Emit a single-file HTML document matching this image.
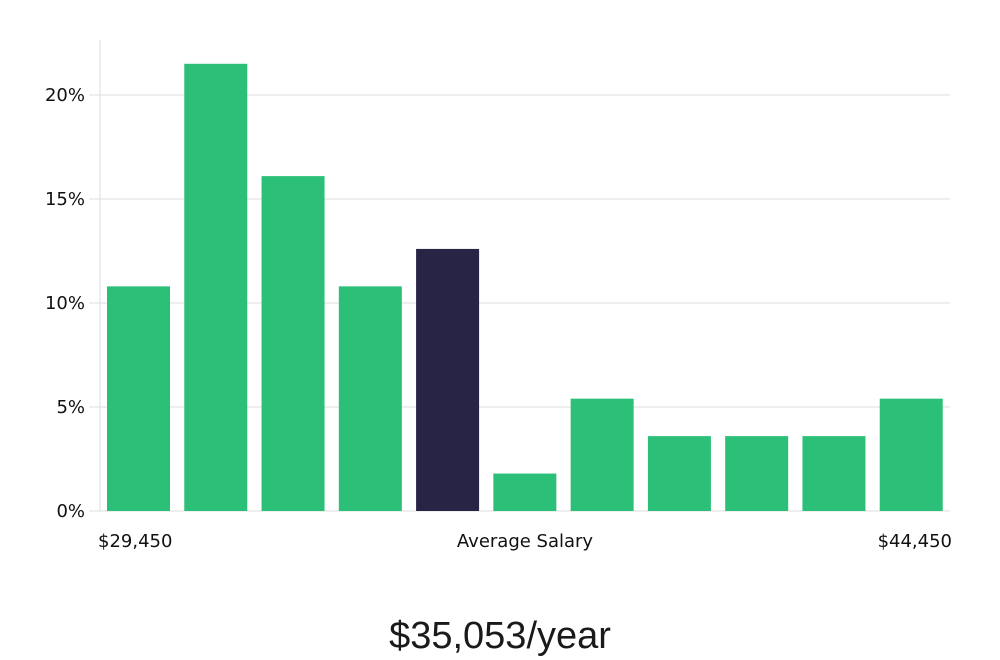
<!DOCTYPE html>
<html><head><meta charset="utf-8"><style>
html,body{margin:0;padding:0;background:#fff;width:1000px;height:660px;overflow:hidden}
text{font-family:"DejaVu Sans","Liberation Sans",sans-serif}
</style></head><body>
<svg id="chart" width="1000" height="660" xmlns="http://www.w3.org/2000/svg">
<g id="grid"></g>
<g id="bars"></g>
<g id="yaxis"></g>
<text x="98" y="547" font-size="18" fill="#111">$29,450</text>
<text x="525" y="547" font-size="18" fill="#111" text-anchor="middle">Average Salary</text>
<text x="952" y="547" font-size="18" fill="#111" text-anchor="end">$44,450</text>
<text x="500" y="648" font-size="38" fill="#1a1a1a" text-anchor="middle" style="font-family:'Liberation Sans',sans-serif;font-weight:300">$35,053/year</text>
</svg>
<script>
const values = [10.8, 21.5, 16.1, 10.8, 12.6, 1.8, 5.4, 3.6, 3.6, 3.6, 5.4];
const highlightIndex = [4];
const yTicks = [0, 5, 10, 15, 20];
const yTickLabels = ["0%", "5%", "10%", "15%", "20%"];
const NS = "http://www.w3.org/2000/svg";
const x0 = 100, x1 = 950, yBase = 511, yTop20 = 95;
const y = v => yBase - (yBase - yTop20) * v / 20;
const band = (x1 - x0) / values.length;
const grid = document.getElementById('grid');
const yaxis = document.getElementById('yaxis');
const barsG = document.getElementById('bars');
function mk(tag, attrs, parent){const e=document.createElementNS(NS,tag);for(const k in attrs)e.setAttribute(k,attrs[k]);parent.appendChild(e);return e;}
yTicks.forEach((t,i)=>{
  const gl = mk('line',{x1:89,x2:x1,y1:y(t),y2:y(t),stroke:'#dcdcdc','stroke-width':1},grid);
  
  
  const lb = mk('text',{x:85,y:y(t)+6,'font-size':18,fill:'#111','text-anchor':'end'},yaxis);
  lb.textContent = yTickLabels[i];
  
  
});
const ax = mk('line',{x1:x0,x2:x0,y1:40,y2:yBase,stroke:'#dcdcdc','stroke-width':1},yaxis);


values.forEach((v,i)=>{
  const hl = highlightIndex.includes(i);
  const r = mk('rect',{x:x0+i*band+7,y:y(v),width:63,height:yBase-y(v),fill:hl?'#272445':'#2bbf77'},barsG);
  
  
});
</script>
</body></html>
